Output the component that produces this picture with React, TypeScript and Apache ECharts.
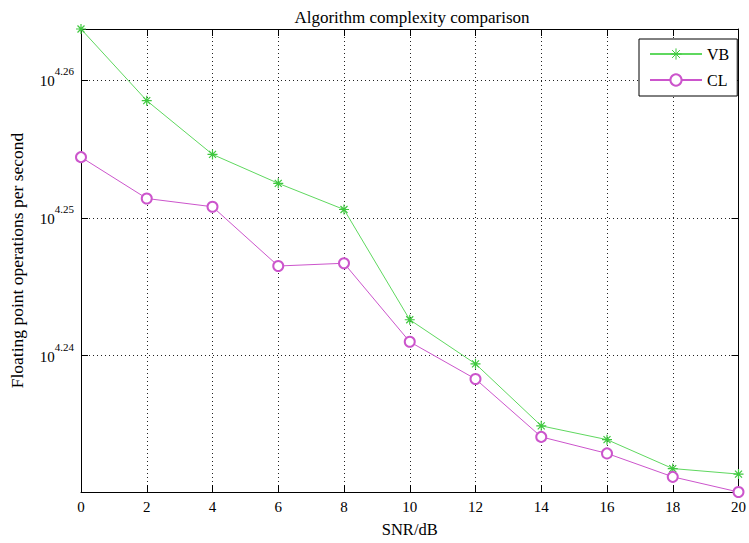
import React, { useEffect, useRef } from "react";
import * as echarts from "echarts";

const snr = [0, 2, 4, 6, 8, 10, 12, 14, 16, 18, 20];
// log10 of floating point operations per second
const vbExp = [4.2637, 4.2585, 4.2546, 4.2525, 4.2506, 4.2426, 4.2394, 4.2349, 4.2339, 4.2318, 4.2314];
const clExp = [4.2544, 4.2514, 4.2508, 4.2465, 4.2467, 4.2410, 4.2383, 4.2341, 4.2329, 4.2312, 4.2301];
const yTicks = [4.24, 4.25, 4.26];
const yMin = 4.2301;
const yMax = 4.2637;

const FONT = "Liberation Serif";
const STAR = "path://M0,-1L0,1M-1,0L1,0M-0.7,-0.7L0.7,0.7M-0.7,0.7L0.7,-0.7";

export default function App() {
  const ref = useRef<HTMLDivElement>(null);
  useEffect(() => {
    if (!ref.current) return;
    const chart = echarts.init(ref.current, null, { renderer: "svg" });
    const grid = { left: 79, right: 6, top: 29, bottom: 48 };
    const gridLine = { show: true, lineStyle: { color: "#222", width: 1, type: [1, 3] as any } };
    chart.setOption({
      animation: false,
      backgroundColor: "#fff",
      title: {
        text: "Algorithm complexity comparison",
        left: 407,
        top: 4,
        textAlign: "center",
        textStyle: { fontFamily: FONT, fontSize: 17, fontWeight: "normal", color: "#000" },
      },
      legend: {
        orient: "vertical",
        left: 639,
        top: 39,
        padding: [7, 8, 8, 10],
        itemWidth: 52,
        itemHeight: 14,
        itemGap: 10,
        itemStyle: { borderWidth: 1 },
        borderColor: "#000",
        borderWidth: 1,
        backgroundColor: "#fff",
        textStyle: { fontFamily: FONT, fontSize: 16, color: "#000" },
        data: ["VB", "CL"],
      },
      grid,
      xAxis: [
        {
          type: "value",
          min: 0,
          max: 20,
          interval: 2,
          name: "SNR/dB",
          nameLocation: "middle",
          nameGap: 29,
          nameTextStyle: { fontFamily: FONT, fontSize: 16.5, color: "#000" },
          axisLine: { show: true, onZero: false, lineStyle: { color: "#000", width: 1 } },
          axisTick: { show: true, inside: true, length: 7, lineStyle: { color: "#000" } },
          axisLabel: { fontFamily: FONT, fontSize: 15, color: "#000", margin: 7 },
          splitLine: gridLine,
        },
        {
          type: "value",
          position: "top",
          min: 0,
          max: 20,
          interval: 2,
          axisLine: { show: true, onZero: false, lineStyle: { color: "#000", width: 1 } },
          axisTick: { show: true, inside: true, length: 7, lineStyle: { color: "#000" } },
          axisLabel: { show: false },
          splitLine: { show: false },
        },
      ],
      yAxis: [
        {
          type: "value",
          min: yMin,
          max: yMax,
          name: "Floating point operations per second",
          nameLocation: "middle",
          nameGap: 55,
          nameTextStyle: { fontFamily: FONT, fontSize: 17.5, color: "#000" },
          axisLine: { show: true, onZero: false, lineStyle: { color: "#000", width: 1 } },
          axisTick: { show: true, inside: true, length: 7, lineStyle: { color: "#000" }, customValues: yTicks },
          axisLabel: {
            customValues: yTicks,
            margin: 7,
            padding: [2, 0, 0, 0],
            formatter: (v: number) => `{b|10}{s|${v.toFixed(2)}}`,
            rich: {
              b: { fontFamily: FONT, fontSize: 15, color: "#000", lineHeight: 31 },
              s: { fontFamily: FONT, fontSize: 11, color: "#000", lineHeight: 11, verticalAlign: "top" },
            },
          },
          splitLine: gridLine,
        },
        {
          type: "value",
          position: "right",
          min: yMin,
          max: yMax,
          axisLine: { show: true, onZero: false, lineStyle: { color: "#000", width: 1 } },
          axisTick: { show: true, inside: true, length: 7, lineStyle: { color: "#000" }, customValues: yTicks },
          axisLabel: { show: false, customValues: yTicks },
          splitLine: { show: false },
        },
      ],
      series: [
        {
          name: "VB",
          type: "line",
          data: snr.map((x, i) => [x, vbExp[i]]),
          symbol: STAR,
          symbolSize: 10,
          clip: false,
          lineStyle: { color: "#5fd85f", width: 1 },
          itemStyle: { color: "#5fd85f", borderColor: "#3fc83f", borderWidth: 1.2 },
        },
        {
          name: "CL",
          type: "line",
          data: snr.map((x, i) => [x, clExp[i]]),
          symbol: "emptyCircle",
          symbolSize: 10,
          clip: false,
          lineStyle: { color: "#cc55cc", width: 1 },
          itemStyle: { color: "#cc55cc", borderColor: "#cc55cc", borderWidth: 1 },
        },
      ],
    });
    return () => chart.dispose();
  }, []);
  return (
    <div
      ref={ref}
      style={{ position: "absolute", left: 0, top: 0, width: 749, height: 543, background: "#fff" }}
    />
  );
}
